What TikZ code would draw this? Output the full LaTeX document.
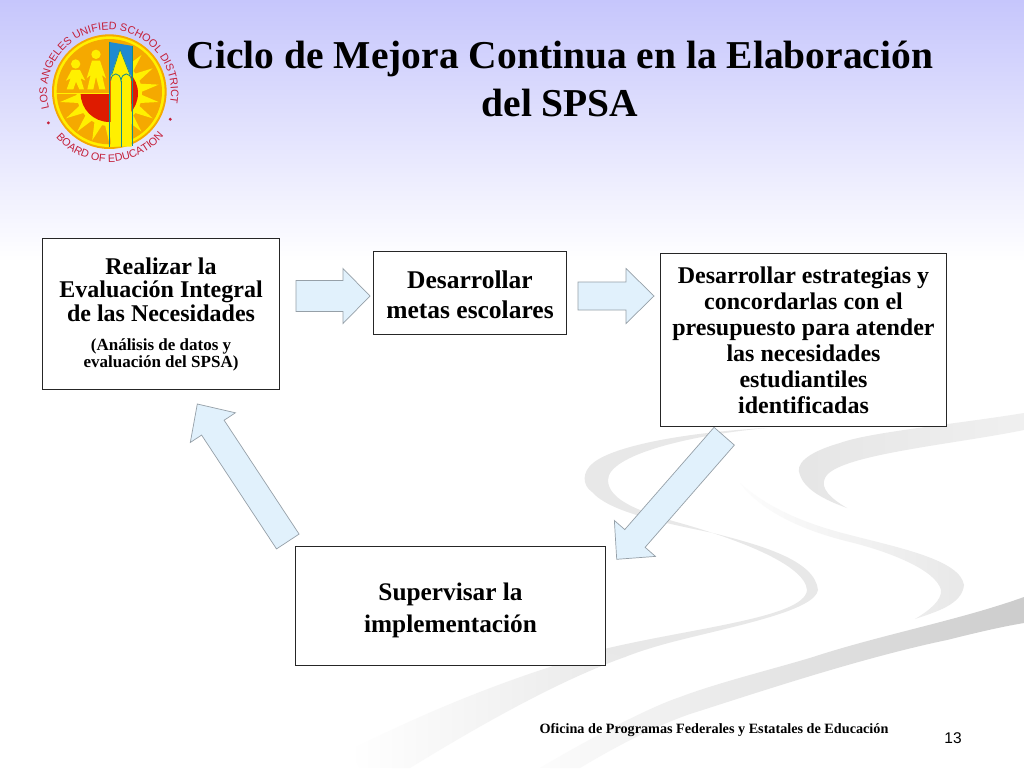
\documentclass[tikz,border=0pt]{standalone}
\usepackage{fontspec}
\setmainfont{Liberation Serif}
\newfontfamily\sansf{Liberation Sans}
\usetikzlibrary{calc,decorations.text}
\definecolor{arrowfill}{HTML}{E1F1FC}
\definecolor{arrowline}{HTML}{96A0A8}
\definecolor{logored}{HTML}{C4203A}
\definecolor{logoorange}{HTML}{F5A900}
\definecolor{logoyellow}{HTML}{FFF000}
\definecolor{logoteal}{HTML}{128A8A}
\definecolor{logoblue}{HTML}{1F8AD0}
\definecolor{sunred}{HTML}{DE1B00}
\tikzset{
  stepbox/.style={draw=black!85,line width=1pt,fill=white,align=center,inner sep=0pt},
  swoosh/.style={draw=none},
  blockarrowstyle/.style={draw=arrowline,line width=.7pt,fill=arrowfill,line join=miter},
  logofig/.style={fill=logoyellow,draw=none}
}
\newcommand{\blockarrow}[5]{%
  \coordinate (hb) at ($(#2)!#4!(#1)$);
  \path[blockarrowstyle]
    ($(#1)!#3!90:(#2)$) -- ($(hb)!#3!90:(#2)$) -- ($(hb)!#5!90:(#2)$) -- (#2)
    -- ($(hb)!#5!-90:(#2)$) -- ($(hb)!#3!-90:(#2)$) -- ($(#1)!#3!-90:(#2)$) -- cycle;
}
\newcommand{\fsz}[2]{\fontsize{#1}{#2}\selectfont\bfseries}
\newcommand{\tp}[1]{\rule{0pt}{#1}}
\begin{document}
\begin{tikzpicture}[x=1pt,y=-1pt]
\useasboundingbox (0,0) rectangle (1024,768);
% background
\fill[white] (0,0) rectangle (1024,768);
\shade[top color={rgb,255:red,198;green,198;blue,252},bottom color=white] (0,0) rectangle (1024,262);
% swooshes
\shade[swoosh,left color=white,right color=black!9]
  (350,750) .. controls (420,715) and (510,675) .. (625,645)
  -- (625,657) .. controls (560,680) and (480,725) .. (410,768) -- (360,768) -- cycle;
\fill[black!9,swoosh]
  (767,428) .. controls (690,432) and (615,445) .. (593,463)
  .. controls (582,472) and (582,485) .. (592,492)
  .. controls (610,512) and (660,522) .. (713,533)
  .. controls (760,545) and (815,560) .. (818,590)
  .. controls (815,610) and (740,625) .. (680,640)
  .. controls (660,645) and (640,651) .. (625,657)
  -- (600,650)
  .. controls (690,628) and (805,618) .. (807,590)
  .. controls (805,565) and (740,540) .. (680,523)
  .. controls (640,512) and (608,500) .. (608,480)
  .. controls (608,455) and (690,435) .. (767,428) -- cycle;
\shade[swoosh,left color=black!10,right color=black!6]
  (1024,413) .. controls (950,425) and (870,432) .. (840,443)
  .. controls (805,453) and (795,465) .. (800,475)
  .. controls (805,490) and (825,500) .. (847,508)
  .. controls (830,498) and (820,488) .. (825,478)
  .. controls (835,455) and (950,445) .. (1024,430) -- cycle;
\shade[swoosh,left color=black!1,right color=black!9]
  (740,483) .. controls (770,510) and (810,525) .. (850,535)
  .. controls (900,548) and (960,560) .. (964,585)
  .. controls (962,605) and (935,612) .. (915,619)
  .. controls (930,610) and (942,600) .. (941,590)
  .. controls (936,570) and (890,552) .. (850,542)
  .. controls (800,530) and (760,510) .. (740,483) -- cycle;
\shade[swoosh,left color=black!1,right color=black!20]
  (1024,597) .. controls (960,620) and (880,635) .. (813,657)
  .. controls (770,670) and (720,682) .. (680,697)
  .. controls (650,707) and (590,738) .. (540,768)
  -- (580,768) .. controls (610,750) and (650,728) .. (690,714)
  .. controls (750,695) and (860,658) .. (947,640)
  .. controls (975,633) and (1000,627) .. (1024,623) -- cycle;
% logo ring text
\begin{scope}[shift={(109,92)},y=1pt]
  \path[decorate,decoration={text along path,text align=center,text color=logored,
    text={|\sansf\fontsize{10.8}{12}\selectfont|LOS ANGELES UNIFIED SCHOOL DISTRICT}}]
    (205:62) arc[start angle=205,end angle=-20,radius=62];
  \path[decorate,decoration={text along path,text align=center,text color=logored,
    text={|\sansf\fontsize{10.8}{12}\selectfont|BOARD OF EDUCATION}}]
    (210:70) arc[start angle=210,end angle=332,radius=70];
  \fill[logored] (207:68) circle[radius=1.6] (-24:67) circle[radius=1.6];
\end{scope}
% logo
\begin{scope}[shift={(20,10)},x=.3333pt,y=-.3333pt]
  \fill[logoorange] (268,245) circle[radius=172];
  \fill[logoyellow] (268,245) circle[radius=166];
  \fill[logoorange] (268,245) circle[radius=158];
  % sun rays
  \begin{scope}
    \clip (110,250) rectangle (430,410) (268,90) rectangle (430,250);
    \foreach \a in {-90,-70,...,270}{
      \fill[logoyellow] ($(268,250)+(\a-9:90)$) -- ($(268,250)+(\a:150)$) -- ($(268,250)+(\a+9:90)$) -- cycle;
    }
    \fill[logoyellow] (268,250) circle[radius=98];
    \fill[sunred] (268,250) circle[radius=86];
  \end{scope}
  \draw[logoyellow,line width=1.2pt] (107,250) -- (268,250);
  % pencil
  \fill[logoblue] (268,96) -- (338,108) -- (338,200) -- (268,200) -- cycle;
  \fill[logoyellow] (272,200) -- (300,118) -- (333,200) -- (335,410) -- (272,410) -- cycle;
  \draw[logoteal,line width=1pt] (268,96) -- (268,412) (338,108) -- (338,408);
  \draw[logoteal,line width=.8pt] (272,212) .. controls (275,185) and (300,185) .. (303,212)
     .. controls (306,185) and (332,185) .. (335,212);
  \draw[logoteal,line width=.8pt] (303,212) -- (303,410);
  \draw[logoteal,line width=.6pt] (275,195) -- (300,118) -- (330,195);
  % children
  \fill[logofig] (167,162) circle[radius=14] (228,133) circle[radius=14];
  \fill[logofig] (155,180) -- (180,180) -- (196,212) -- (182,205) -- (192,238) -- (178,238) -- (168,215) -- (160,238) -- (140,238) -- (152,205) -- (138,212) -- cycle;
  \fill[logofig] (216,152) -- (240,152) -- (258,205) -- (246,195) -- (256,238) -- (238,238) -- (228,200) -- (220,238) -- (202,238) -- (212,195) -- (200,205) -- cycle;
\end{scope}
% title
\node[font=\fsz{39.5}{48},align=center] (title) at (560,79) {Ciclo de Mejora Continua en la Elaboración\\del SPSA};
% boxes
\node[stepbox,font=\fsz{24}{23.5},minimum width=237pt,minimum height=151pt] (a) at (161,314) {%
  Realizar la\\Evaluación Integral\\de las Necesidades\\[5.5pt]%
  \fsz{17}{17}(Análisis de datos y\\[-6.5pt]\fsz{17}{17}evaluación del SPSA)};
\node[stepbox,font=\fsz{25.5}{30},minimum width=193pt,minimum height=83pt] (b) at (470,293) {\tp{22pt}Desarrollar\\metas escolares};
\node[stepbox,font=\fsz{24}{26},minimum width=286pt,minimum height=173pt] (c) at (803.5,340) {Desarrollar estrategias y\\concordarlas con el\\presupuesto para atender\\las necesidades\\estudiantiles\\identificadas};
\node[stepbox,font=\fsz{25.3}{32},minimum width=310pt,minimum height=119pt] (d) at (450.5,606) {\tp{26pt}Supervisar la\\implementación};
% block arrows
\coordinate (t1) at (296,296);
\coordinate (h1) at (370,296);
\blockarrow{t1}{h1}{15.5pt}{27pt}{27.5pt}
\coordinate (t2) at (578,296);
\coordinate (h2) at (654,296);
\blockarrow{t2}{h2}{14pt}{28pt}{27.5pt}
\coordinate (t3) at (724.2,436.2);
\coordinate (h3) at (616.7,559.3);
\blockarrow{t3}{h3}{13.5pt}{27.7pt}{27.3pt}
\coordinate (t4) at (287.8,541.5);
\coordinate (h4) at (197.3,404);
\blockarrow{t4}{h4}{13.5pt}{28.3pt}{27pt}
% footer
\node[font=\fsz{14.2}{16}] (foot) at (714,730.5) {Oficina de Programas Federales y Estatales de Educación};
\node[font=\sansf\fontsize{15.5}{18}\selectfont] (num) at (953,738) {13};
\end{tikzpicture}
\end{document}
